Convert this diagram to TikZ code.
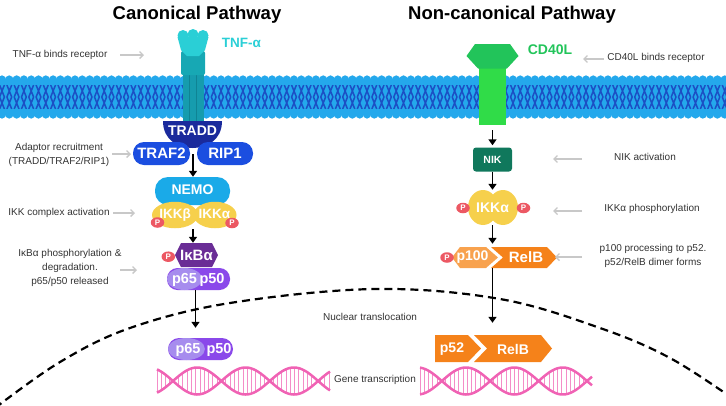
\documentclass[tikz,border=0pt]{standalone}
\usepackage{fontspec}
\setmainfont{Liberation Sans}
\usetikzlibrary{shapes.geometric,arrows.meta}
\definecolor{headc}{HTML}{24A8EC}
\definecolor{tailc}{HTML}{1C4FC4}
\definecolor{tnfc}{HTML}{2ACFD6}
\definecolor{tnfr}{HTML}{17A8B4}
\definecolor{tnfs}{HTML}{169CAE}
\definecolor{tnfd}{HTML}{0F8494}
\definecolor{traddc}{HTML}{1A2A9C}
\definecolor{trafc}{HTML}{1B4EE0}
\definecolor{nemoc}{HTML}{1AAAE8}
\definecolor{ikkc}{HTML}{F6D04C}
\definecolor{pc}{HTML}{EC5863}
\definecolor{ikbc}{HTML}{6A2D96}
\definecolor{p50c}{HTML}{8A48EA}
\definecolor{p65c}{HTML}{A68CEE}
\definecolor{cdhex}{HTML}{22C45A}
\definecolor{cdrect}{HTML}{30DC48}
\definecolor{nikc}{HTML}{10785C}
\definecolor{p100c}{HTML}{F8A24E}
\definecolor{relbc}{HTML}{F5821A}
\definecolor{dnac}{HTML}{F062B4}
\definecolor{rungc}{HTML}{F48DC8}
\definecolor{labc}{HTML}{333333}
\definecolor{garr}{HTML}{C8C8C8}
\newcommand\dnahelix[3]{%
  \pgfmathtruncatemacro{\dnan}{(#2-#1)/4.3}%
  \foreach \i in {0,...,\dnan}{%
    \pgfmathsetmacro{\dnax}{#1+\i*4.3}%
    \pgfmathsetmacro{\dnaa}{381-13.5*cos((\dnax-#3)/48.4*180)}%
    \pgfmathsetmacro{\dnab}{381+13.5*cos((\dnax-#3)/48.4*180)}%
    \draw[rungc, line width=1pt] (\dnax,\dnaa) -- (\dnax,\dnab);
  }%
  \draw[dnac, line width=2.5pt] plot[domain=#1:#2, samples=140] (\x,{381-13.5*cos((\x-#3)/48.4*180)});%
  \draw[dnac, line width=2.5pt] plot[domain=#1:#2, samples=140] (\x,{381+13.5*cos((\x-#3)/48.4*180)});%
}
\begin{document}
\begin{tikzpicture}[x=1pt,y=-1pt,
  lab/.style={text=labc, font=\fontsize{10}{14}\selectfont, align=center, inner sep=0pt},
  garrow/.style={draw=garr, line width=1.4pt, -{Straight Barb[length=3.5pt,width=7pt]}},
  barrow/.style={draw=black, line width=1.7pt, -{Triangle[length=6pt,width=8pt]}},
  wb/.style={text=white, font=\bfseries\fontsize{#1}{#1}\selectfont, inner sep=0pt},
  pcirc/.style={ellipse, fill=pc, minimum width=13.5pt, minimum height=10.5pt, inner sep=0pt, text=white, font=\bfseries\fontsize{8}{8}\selectfont},
  title/.style={font=\bfseries\fontsize{18.5}{22}\selectfont, text=black, inner sep=0pt},
  anchorbox/.style={rectangle, inner sep=0pt}
]
\useasboundingbox (0,0) rectangle (726,405);
\clip (0,0) rectangle (726,405);

% nuclear envelope
\draw[black, line width=2.2pt, dash pattern=on 8pt off 5pt] plot[smooth, tension=0.6] coordinates {(-5,408) (60,362) (130,328) (230,303) (375,289) (500,299) (600,328) (670,358) (735,400)};

% titles
\node[title] (tcan) at (197,15) {Canonical Pathway};
\node[title] (tnon) at (512,15) {Non-canonical Pathway};

% membrane
\fill[headc] (0,81) rectangle (726,113);
\foreach \i in {0,...,100}{
  \pgfmathsetmacro{\mx}{\i*7.3+2}
  \draw[tailc, line width=1.5pt] (\mx-2.4,85) -- (\mx+2.4,97) (\mx+2.4,85) -- (\mx-2.4,97) (\mx-2.4,97) -- (\mx+2.4,109) (\mx+2.4,97) -- (\mx-2.4,109);
}
\foreach \i in {0,...,100}{
  \pgfmathsetmacro{\mx}{\i*7.3+2}
  \fill[headc] (\mx,80.5) ellipse [x radius=4.4, y radius=5.2];
  \fill[headc] (\mx,113.5) ellipse [x radius=4.4, y radius=5.2];
}

% TNF receptor and ligand
\fill[tnfs] (182.5,70) rectangle (203.5,127);
\draw[tnfd, line width=1pt] (189.5,72) -- (189.5,127) (196.5,72) -- (196.5,127);
\fill[tnfr, rounded corners=2pt] (181,51) rectangle (205,75);
\fill[tnfc] (177.5,37) -- (208.5,37) -- (205,50) -- (199,56) -- (187,56) -- (181,50) -- cycle;
\fill[tnfc] (183,35.5) circle (5.5) (193,34.5) circle (5.5) (203,35.5) circle (5.5);
\node[font=\bfseries\fontsize{13.5}{14}\selectfont, text=tnfc, inner sep=0pt] (tnflab) at (241.5,43) {TNF-α};

% TRADD / TRAF2 / RIP1
\fill[traddc] (163,121) -- (222,121) .. controls (222,140) and (207,148) .. (192.5,148) .. controls (178,148) and (163,140) .. (163,121) -- cycle;
\node[wb=14] (tradd) at (192.5,130.5) {TRADD};
\node[rectangle, rounded corners=11pt, fill=trafc, minimum width=57pt, minimum height=23pt, wb=15] (traf2) at (161.5,153.5) {TRAF2};
\node[rectangle, rounded corners=11pt, fill=trafc, minimum width=56pt, minimum height=23pt, wb=15] (rip1) at (225,153.5) {RIP1};
\coordinate (traddtip) at (193,154);

% NEMO / IKK
\node[rectangle, rounded corners=13pt, fill=nemoc, minimum width=75pt, minimum height=28pt, inner sep=0pt] (nemo) at (192.5,191) {};
\node[wb=14] (nemot) at (192.5,189.5) {NEMO};
\node[ellipse, fill=ikkc, minimum width=46pt, minimum height=26.5pt, wb=13.5] (ikkb) at (175,215) {IKKβ};
\node[ellipse, fill=ikkc, minimum width=43pt, minimum height=26.5pt, inner sep=0pt] (ikka) at (215,215) {};
\node[wb=13.5] (ikkat) at (214.5,214) {IKKα};
\node[pcirc] (p1) at (157.5,222.5) {P};
\node[pcirc] (p2) at (232,223) {P};
\coordinate (ikkjoin) at (193,229);

% IkBa
\fill[ikbc] (175,255) -- (181,243) -- (212,243) -- (218,255) -- (212,267) -- (181,267) -- cycle;
\node[anchorbox, minimum width=43pt, minimum height=24pt, wb=15] (ikba) at (196.5,255) {IκBα};
\node[pcirc] (p3) at (168.3,256.7) {P};

% p65/p50 cytoplasm
\node[rectangle, rounded corners=10.5pt, fill=p50c, minimum width=63pt, minimum height=22pt, inner sep=0pt] (p6550) at (198.5,279) {};
\fill[p65c] (184.5,279) ellipse [x radius=17.5, y radius=11];
\node[wb=14.5] (p65a) at (184.5,279.5) {p65};
\node[wb=14.5] (p50a) at (212,279.5) {p50};
\coordinate (colL) at (195.5,0);

% p65/p50 nucleus
\node[rectangle, rounded corners=11pt, fill=p50c, minimum width=65pt, minimum height=22pt, inner sep=0pt] (p6550n) at (200.5,349) {};
\fill[p65c] (186.5,349) ellipse [x radius=18.5, y radius=11];
\node[wb=14.5] (p65b) at (188,349.5) {p65};
\node[wb=14.5] (p50b) at (219,349.5) {p50};

% DNA
\dnahelix{157}{330}{148.75}
\dnahelix{420}{592}{417.6}

% CD40L
\node[anchorbox, fill=cdrect, minimum width=27pt, minimum height=57pt] (cdr) at (492.5,96.7) {};
\fill[cdhex] (475,44) -- (510,44) -- (518.5,56) -- (507,68.5) -- (478,68.5) -- (466.5,56) -- cycle;
\node[font=\bfseries\fontsize{14}{14}\selectfont, text=cdhex, inner sep=0pt] (cdlab) at (550,49.5) {CD40L};

% NIK
\node[rectangle, rounded corners=3pt, fill=nikc, minimum width=39pt, minimum height=24pt, wb=10.5] (nik) at (492.5,159.5) {NIK};

% IKKa non-canonical
\node[ellipse, fill=ikkc, minimum width=30pt, minimum height=35pt, inner sep=0pt] (ikkl) at (483,207.5) {};
\node[ellipse, fill=ikkc, minimum width=30pt, minimum height=35pt, inner sep=0pt] (ikkr) at (503,207.5) {};
\node[anchorbox, minimum height=35pt, wb=14] (ikkar) at (492.5,207.5) {IKKα};
\node[pcirc] (p4) at (463,208) {P};
\node[pcirc] (p5) at (523.5,208) {P};

% p100 / RelB
\fill[p100c] (452,257.5) -- (460,247) -- (486,247) -- (498,257.5) -- (486,268) -- (460,268) -- cycle;
\fill[relbc] (491,247) -- (547,247) -- (557,257.5) -- (547,268) -- (491,268) -- (503,257.5) -- cycle;
\node[wb=14] (p100t) at (472.5,257.5) {p100};
\node[wb=15] (relbt) at (526,257.5) {RelB};
\node[pcirc] (p6) at (447,257.5) {P};
\node[anchorbox, minimum width=40pt, minimum height=21pt] (p100grp) at (492.5,257.5) {};

% p52 / RelB nucleus
\fill[relbc] (435,335) -- (468,335) -- (481,348.5) -- (468,362) -- (435,362) -- cycle;
\fill[relbc] (474,335) -- (541,335) -- (552,348.5) -- (541,362) -- (474,362) -- (487,348.5) -- cycle;
\node[wb=14] (p52t) at (452,349) {p52};
\node[wb=14] (relbn) at (513,349) {RelB};
\node[anchorbox, minimum width=40pt, minimum height=27pt] (p52grp) at (492.5,348.5) {};

% black arrows
\draw[barrow] (traddtip) -- (nemo.north -| traddtip);
\draw[barrow] (ikkjoin) -- (ikba.north -| ikkjoin);
\draw[barrow, shorten >=10pt] (p6550.south -| colL) -- (p6550n.north -| colL);
\draw[barrow, shorten <=5pt, shorten >=2pt] (cdr.south) -- (nik.north);
\draw[barrow] (nik.south) -- (ikkar.north);
\draw[barrow, shorten >=3pt] (ikkar.south) -- (p100grp.north);
\draw[barrow, shorten >=12pt] (p100grp.south) -- (p52grp.north);

% labels
\node[lab] (l1) at (60,55) {TNF-α binds receptor};
\node[lab] (l2) at (59,155) {Adaptor recruitment\\(TRADD/TRAF2/RIP1)};
\node[lab] (l3) at (59,213) {IKK complex activation};
\node[lab] (l4) at (70,267.5) {IκBα phosphorylation \&\\degradation.\\p65/p50 released};
\node[lab] (r1) at (656,58) {CD40L binds receptor};
\node[lab] (r2) at (645,157) {NIK activation};
\node[lab] (r3) at (652,209) {IKKα phosphorylation};
\node[lab] (r4) at (653,256) {p100 processing to p52.\\p52/RelB dimer forms};
\node[lab] (n1) at (370,317) {Nuclear translocation};
\node[lab] (n2) at (375,380) {Gene transcription};

% gray pointer arrows
\coordinate (ga1) at (120,55);  \coordinate (gb1) at (144,55);
\coordinate (ga2) at (112,154); \coordinate (gb2) at (131,154);
\coordinate (ga3) at (113,213); \coordinate (gb3) at (135,213);
\coordinate (ga4) at (120,270); \coordinate (gb4) at (137,270);
\coordinate (ga5) at (604,59);  \coordinate (gb5) at (583,59);
\coordinate (ga6) at (582,159); \coordinate (gb6) at (553,159);
\coordinate (ga7) at (582,211); \coordinate (gb7) at (553,211);
\coordinate (ga8) at (582,257); \coordinate (gb8) at (555,257);
\foreach \k in {1,...,8}{ \draw[garrow] (ga\k) -- (gb\k); }
\end{tikzpicture}
\end{document}
